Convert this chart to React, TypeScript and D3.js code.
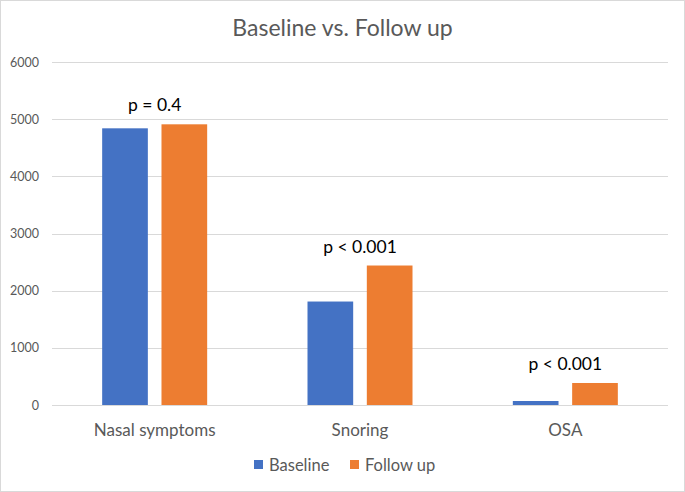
import React from "react";
import * as d3 from "d3";

const categories = ["Nasal symptoms", "Snoring", "OSA"];
const seriesNames = ["Baseline", "Follow up"];
const baseline = [4840, 1810, 70];
const followUp = [4910, 2440, 385];
const pLabels = ["p = 0.4", "p < 0.001", "p < 0.001"];
const yTicks = [0, 1000, 2000, 3000, 4000, 5000, 6000];
const colors = ["#4472C4", "#ED7D31"];

const W = 685;
const H = 492;
const FONT = "Lato, 'Open Sans', sans-serif";

export default function App() {
  const left = 52, right = 668, top = 62, bottom = 405;
  const x = d3.scaleBand<string>().domain(categories).range([left, right]).paddingInner(0).paddingOuter(0);
  const xs = d3.scaleBand<string>().domain(seriesNames).range([0, 105]).paddingInner(0.23);
  const y = d3.scaleLinear().domain([0, 6000]).range([bottom, top]);
  const series = [baseline, followUp];
  const bw = x.bandwidth();
  return (
    <svg width={W} height={H} style={{ position: "absolute", left: 0, top: 0, background: "#fff" }}>
      <rect x={0.5} y={0.5} width={W - 1} height={H - 1} fill="#fff" stroke="#d9d9d9" />
      <text x={W / 2} y={36} textAnchor="middle" fontFamily={FONT} fontSize={23} fill="#595959">
        Baseline vs. Follow up
      </text>
      {yTicks.map((t) => (
        <g key={t}>
          <line x1={left} x2={right} y1={Math.round(y(t)) + 0.5} y2={Math.round(y(t)) + 0.5} stroke="#d9d9d9" />
          <text x={39} y={y(t) + 4.5} textAnchor="end" fontFamily={FONT} fontSize={12.5} fill="#595959">
            {t}
          </text>
        </g>
      ))}
      {categories.map((c, i) => {
        const gx = (x(c) as number) + (bw - 105) / 2;
        const maxV = Math.max(baseline[i], followUp[i]);
        return (
          <g key={c}>
            {series.map((s, j) => (
              <rect
                key={j}
                x={gx + (xs(seriesNames[j]) as number)}
                y={y(s[i])}
                width={xs.bandwidth()}
                height={y(0) - y(s[i])}
                fill={colors[j]}
              />
            ))}
            <text x={(x(c) as number) + bw / 2} y={y(maxV) - 13} textAnchor="middle" fontFamily={FONT} fontSize={17.5} fill="#000">
              {pLabels[i]}
            </text>
            <text x={(x(c) as number) + bw / 2} y={436} textAnchor="middle" fontFamily={FONT} fontSize={17} fill="#595959">
              {c}
            </text>
          </g>
        );
      })}
      <g>
        <rect x={254} y={460} width={9} height={9} fill={colors[0]} />
        <text x={269} y={471} fontFamily={FONT} fontSize={16.5} fill="#595959">Baseline</text>
        <rect x={350} y={460} width={9} height={9} fill={colors[1]} />
        <text x={365} y={471} fontFamily={FONT} fontSize={16.5} fill="#595959">Follow up</text>
      </g>
    </svg>
  );
}
